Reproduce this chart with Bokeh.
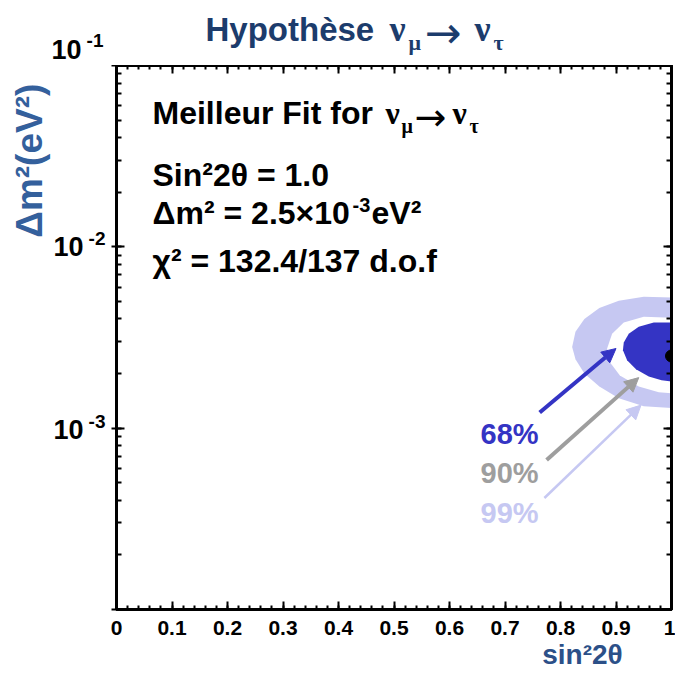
import math
from bokeh.plotting import figure
from bokeh.layouts import column
from bokeh.models import (Range1d, LogAxis, LinearAxis, Label, Arrow, NormalHead,
                          FixedTicker, LogTicker, CustomJSTickFormatter, LinearScale)
from bokeh.embed import file_html
from bokeh.resources import INLINE

# ---------------- data ----------------
x_ticks = [0.0, 0.1, 0.2, 0.3, 0.4, 0.5, 0.6, 0.7, 0.8, 0.9, 1.0]
x_tick_labels = ["0", "0.1", "0.2", "0.3", "0.4", "0.5", "0.6", "0.7", "0.8", "0.9", "1"]
y_tick_vals = [1e-1, 1e-2, 1e-3]
y_tick_exps = ["-1", "-2", "-3"]

# 99% C.L. region boundary (sin^2 2theta, dm^2)
x99 = [1.0, 0.95, 0.905, 0.87, 0.843, 0.827, 0.821, 0.827, 0.843, 0.87, 0.905, 0.95, 1.0]
y99 = [5.25e-3, 5.3e-3, 5.05e-3, 4.6e-3, 4.0e-3, 3.4e-3, 2.8e-3, 2.4e-3, 2.0e-3, 1.7e-3, 1.46e-3, 1.32e-3, 1.29e-3]
# 90% C.L. region boundary
x90 = [1.0, 0.95, 0.914, 0.893, 0.884, 0.889, 0.907, 0.941, 0.977, 1.0]
y90 = [4.07e-3, 4.12e-3, 3.82e-3, 3.32e-3, 2.75e-3, 2.31e-3, 1.95e-3, 1.70e-3, 1.58e-3, 1.56e-3]
# 68% C.L. region boundary
x68 = [1.0, 0.968, 0.941, 0.923, 0.914, 0.9125, 0.92, 0.936, 0.959, 0.982, 1.0]
y68 = [3.82e-3, 3.82e-3, 3.63e-3, 3.32e-3, 2.97e-3, 2.69e-3, 2.37e-3, 2.11e-3, 1.93e-3, 1.84e-3, 1.81e-3]

best_x = [1.0]
best_y = [2.5e-3]

cl_labels = ["68%", "90%", "99%"]
arrow_x0 = [0.7625, 0.775, 0.771]
arrow_y0 = [1.22e-3, 6.67e-4, 4.12e-4]
arrow_x1 = [0.900, 0.941, 0.945]
arrow_y1 = [2.75e-3, 1.90e-3, 1.34e-3]

# ---------------- style ----------------
SANS = "Liberation Sans"
SERIF = "Liberation Serif"
ARROWF = "DejaVu Sans"
NAVY = "#1c3c6c"
YLAB = "#34609c"
XLAB = "#2c5088"
C68 = "#3434c4"
C90 = "#9e9e9e"
C99 = "#c6c8f2"
cl_colors = [C68, C90, C99]
arrow_widths = [4, 4, 2.5]

W = 675
TH = 65           # height of the title strip
MH = W - TH       # height of the main figure
# approximate frame edges (in full-picture pixels) used to place annotations
FLx, FRx, FTy, FBy = 116, 671, 66, 609
FH = FBy - FTy
BASE = 0.33       # baseline correction (fraction of font size)


def dx(px):
    return (px - FLx) / (FRx - FLx)


def dy(py):
    return 10 ** (-1 - 3 * (py - FTy) / FH)


def text_axis(ticks, labels, size, color, standoff, orientation="horizontal",
              pad=0.01, **range_kw):
    lo, hi = min(ticks), max(ticks)
    return LinearAxis(ticker=FixedTicker(ticks=ticks),
                      bounds=(lo - pad, hi + pad),
                      major_label_overrides=dict(zip(ticks, labels)),
                      major_label_text_font=SANS, major_label_text_font_style="bold",
                      major_label_text_font_size=f"{size}px",
                      major_label_text_color=color,
                      major_label_standoff=standoff,
                      major_label_orientation=orientation,
                      axis_line_color=None, major_tick_line_color=None,
                      minor_tick_line_color=None, major_tick_in=0, major_tick_out=0,
                      minor_tick_in=0, minor_tick_out=0, **range_kw)


# ---------------- title strip ----------------
tf = figure(width=W, height=TH, x_range=Range1d(FLx, FRx), y_range=Range1d(TH, 0),
            output_backend="svg", toolbar_location=None, min_border=0,
            x_axis_location=None, y_axis_location=None)
tf.outline_line_color = None
tf.background_fill_color = None
tf.border_fill_color = None
tf.grid.visible = False


def tlab(text, x, y, size, color=NAVY, font=SANS, style="bold",
         align="left", baseline="alphabetic"):
    if baseline == "alphabetic":
        y = y - BASE * size
    tf.add_layout(Label(x=x, y=y, text=text, text_font=font,
                        text_font_size=f"{size}px", text_font_style=style,
                        text_color=color, text_align=align, text_baseline=baseline))


tlab("Hypothèse", 205, 40, 33)
tlab("ν", 389, 40, 36, NAVY, SERIF)
tlab("μ", 408, 49, 22, NAVY, SERIF)
tlab("→", 424, 32, 44, NAVY, ARROWF, "normal", "left", "middle")
tlab("ν", 474, 40, 36, NAVY, SERIF)
tlab("τ", 493, 49, 22, NAVY, SERIF)
# top decade label 10^-1 (above the frame): exponent then "10"
tf.add_layout(text_axis([40.0], y_tick_exps[:1], 19, "black", 13, pad=1), "left")
tf.add_layout(text_axis([49.0], ["10"], 27, "black", 2, pad=1), "left")

# ---------------- main plot ----------------
p = figure(width=W, height=MH, y_axis_type="log",
           x_range=Range1d(0, 1), y_range=Range1d(1e-4, 1e-1),
           output_backend="svg", toolbar_location=None,
           min_border_left=116, min_border_right=4,
           min_border_top=0, min_border_bottom=66)
p.background_fill_color = "white"
p.border_fill_color = "white"
p.outline_line_color = "black"
p.outline_line_width = 3
p.xgrid.visible = False
p.ygrid.visible = False

p.extra_x_ranges = {"labx": Range1d(0, 1)}
p.extra_y_ranges = {"laby": Range1d(0, 1)}
p.extra_y_scales = {"laby": LinearScale()}

minor_x = [round(i * 0.02, 2) for i in range(51)]

# bottom axis
xa = p.xaxis[0]
xa.ticker = FixedTicker(ticks=x_ticks, minor_ticks=minor_x)
xa.major_label_overrides = dict(zip(x_ticks, x_tick_labels))
xa.major_label_text_font = SANS
xa.major_label_text_font_style = "bold"
xa.major_label_text_font_size = "21px"
xa.major_label_text_color = "black"
xa.major_label_standoff = 11
xa.axis_line_width = 3
xa.major_tick_in = 8
xa.major_tick_out = 0
xa.minor_tick_in = 4
xa.minor_tick_out = 0
xa.major_tick_line_width = 2
xa.minor_tick_line_width = 2

# left axis: ticks only
ya = p.yaxis[0]
ya.ticker = LogTicker(num_minor_ticks=10)
ya.formatter = CustomJSTickFormatter(code="return ''")
ya.major_label_text_font_size = "1px"
ya.major_label_standoff = 0
ya.axis_line_width = 3
ya.major_tick_in = 8
ya.major_tick_out = 5
ya.minor_tick_in = 5
ya.minor_tick_out = 0
ya.major_tick_line_width = 2
ya.minor_tick_line_width = 2


def yfrac(v, off_px):
    return (math.log10(v) + 4) / 3 + off_px / FH


# decade labels 10^-2, 10^-3: exponent (inner column) then "10" (outer column)
sup_ticks = [yfrac(v, o) for v, o in zip(y_tick_vals[1:], [8, 7])]
ten_ticks = [yfrac(v, o) for v, o in zip(y_tick_vals[1:], [0, -1])]
p.add_layout(text_axis(sup_ticks, y_tick_exps[1:], 19, "black", 6,
                       y_range_name="laby"), "left")
p.add_layout(text_axis(ten_ticks, ["10"] * 2, 27, "black", 2,
                       y_range_name="laby"), "left")
# y-axis title
ylab_pos = (FBy - 161) / FH
p.add_layout(text_axis([ylab_pos], ["Δm²(eV²)"], 37, YLAB, 0, "vertical",
                       y_range_name="laby"), "left")
# x-axis title
xlab_pos = (582 - FLx) / (FRx - FLx)
p.add_layout(text_axis([xlab_pos], ["sin²2θ"], 28, XLAB, 1,
                       x_range_name="labx"), "below")

# top & right tick-only axes
ta = LinearAxis(ticker=FixedTicker(ticks=x_ticks, minor_ticks=minor_x),
                formatter=CustomJSTickFormatter(code="return ''"),
                major_label_text_font_size="1px", major_label_standoff=0,
                axis_line_width=3, major_tick_in=8, major_tick_out=0,
                minor_tick_in=4, minor_tick_out=0,
                major_tick_line_width=2, minor_tick_line_width=2)
p.add_layout(ta, "above")
ra = LogAxis(ticker=LogTicker(num_minor_ticks=10),
             formatter=CustomJSTickFormatter(code="return ''"),
             major_label_text_font_size="1px", major_label_standoff=0,
             axis_line_width=3, major_tick_in=8, major_tick_out=0,
             minor_tick_in=5, minor_tick_out=0,
             major_tick_line_width=2, minor_tick_line_width=2)
p.add_layout(ra, "right")

# confidence regions
p.patch(x99, y99, fill_color=C99, line_color=None)
p.patch(x90, y90, fill_color="white", line_color=None)
p.patch(x68, y68, fill_color=C68, line_color=None)
p.scatter(best_x, best_y, size=12, color="black")

for i in range(3):
    p.add_layout(Arrow(x_start=arrow_x0[i], y_start=arrow_y0[i],
                       x_end=arrow_x1[i], y_end=arrow_y1[i],
                       line_color=cl_colors[i], line_width=arrow_widths[i],
                       end=NormalHead(size=14, fill_color=cl_colors[i],
                                      line_color=cl_colors[i])))


def lab(text, px, py, size, color="black", font=SANS, style="bold",
        align="left", baseline="alphabetic"):
    if baseline == "alphabetic":
        py = py - BASE * size
    p.add_layout(Label(x=dx(px), y=dy(py), text=text, text_font=font,
                       text_font_size=f"{size}px", text_font_style=style,
                       text_color=color, text_align=align, text_baseline=baseline))


# best-fit text block
lab("Meilleur Fit for", 152, 124, 32)
lab("ν", 385, 124, 32, "black", SERIF)
lab("μ", 401, 133, 20, "black", SERIF)
lab("→", 414, 117, 38, "black", ARROWF, "normal", "left", "middle")
lab("ν", 452, 124, 32, "black", SERIF)
lab("τ", 469, 133, 20, "black", SERIF)
lab("Sin²2θ = 1.0", 152, 186, 32)
lab("Δm² = 2.5×10", 152, 224, 32)
lab("-3", 352, 212, 20)
lab("eV²", 371, 224, 32)
lab("χ² = 132.4/137 d.o.f", 152, 272, 32)

# confidence-level labels
for t, c, py in zip(cl_labels, cl_colors, [443, 482, 522]):
    lab(t, 480, py, 29, c)

layout = column(tf, p, spacing=0)
open("out.html", "w").write(file_html(layout, INLINE))
